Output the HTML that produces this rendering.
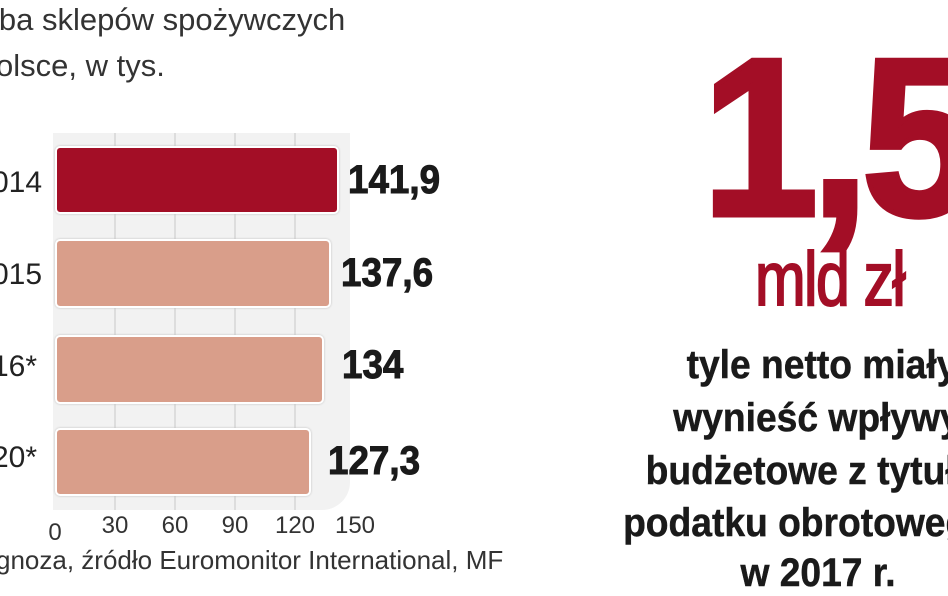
<!DOCTYPE html>
<html><head><meta charset="utf-8"><style>
body{margin:0;width:948px;height:593px;background:#fff;overflow:hidden;position:relative;font-family:"Liberation Sans",sans-serif}
.t{position:absolute;white-space:nowrap}
.g{position:absolute;top:133px;width:2px;height:377px;background:#ddd}
.bar{position:absolute;left:55px;border-radius:5px;border:2px solid #fff;box-shadow:0 0 2px #bbb;box-sizing:border-box}
.v{position:absolute;font-weight:bold;font-size:40px;color:#1a1a1a;transform:scaleX(.92);transform-origin:left;-webkit-text-stroke:1px #1a1a1a}
.y{position:absolute;font-size:30px;color:#222}
.x{position:absolute;top:512px;font-size:24px;color:#333;transform:translateX(-50%)}
.r{position:absolute;font-weight:bold;font-size:40px;color:#1a1a1a;white-space:nowrap;transform:translateX(-50%) scaleX(.93);-webkit-text-stroke:0.5px #1a1a1a}
</style></head><body>
<div class="t" style="left:-8px;top:2px;font-size:31px;color:#333">lba sklepów spożywczych</div>
<div class="t" style="left:-4px;top:48px;font-size:31px;color:#333">olsce, w tys.</div>
<div style="position:absolute;left:53px;top:133px;width:297px;height:377px;background:#f2f2f2;border-radius:0 0 28px 0"></div>
<div class="g" style="left:114px"></div><div class="g" style="left:174px"></div><div class="g" style="left:234px"></div><div class="g" style="left:294px"></div>
<div class="bar" style="top:146px;width:284px;height:68px;background:#a30e26"></div>
<div class="bar" style="top:239px;width:276px;height:69px;background:#d99e8a"></div>
<div class="bar" style="top:335px;width:269px;height:69px;background:#d99e8a"></div>
<div class="bar" style="top:428px;width:256px;height:68px;background:#d99e8a"></div>
<div class="v" style="left:348px;top:158px">141,9</div>
<div class="v" style="left:341px;top:251px">137,6</div>
<div class="v" style="left:342px;top:343px">134</div>
<div class="v" style="left:328px;top:439px">127,3</div>
<div class="y" style="top:166px;left:-8px">014</div>
<div class="y" style="top:258px;left:-8px">015</div>
<div class="y" style="top:350px;left:-8px">16*</div>
<div class="y" style="top:441px;left:-8px">20*</div>
<div class="x" style="left:55px;top:519px">0</div><div class="x" style="left:115px">30</div><div class="x" style="left:175px">60</div><div class="x" style="left:235px">90</div><div class="x" style="left:295px">120</div><div class="x" style="left:355px">150</div>
<div class="t" style="left:-4px;top:545px;font-size:26px;color:#333">gnoza, źródło Euromonitor International, MF</div>
<div class="t" style="left:702px;top:8px;font-size:225px;font-weight:bold;color:#a30e26;transform:scaleX(.93);transform-origin:left;letter-spacing:-8px;-webkit-text-stroke:5px #a30e26">1,5</div>
<div class="t" style="left:755px;top:236px;font-size:76px;color:#a30e26;transform:scaleX(.8);transform-origin:left;letter-spacing:-2px;-webkit-text-stroke:2px #a30e26">mld zł</div>
<div class="r" style="left:822px;top:343px">tyle netto miały</div>
<div class="r" style="left:817px;top:396px">wynieść wpływy</div>
<div class="r" style="left:812px;top:449px">budżetowe z tytułu</div>
<div class="r" style="left:807px;top:501px">podatku obrotowego</div>
<div class="r" style="left:818px;top:551px">w 2017 r.</div>
</body></html>
